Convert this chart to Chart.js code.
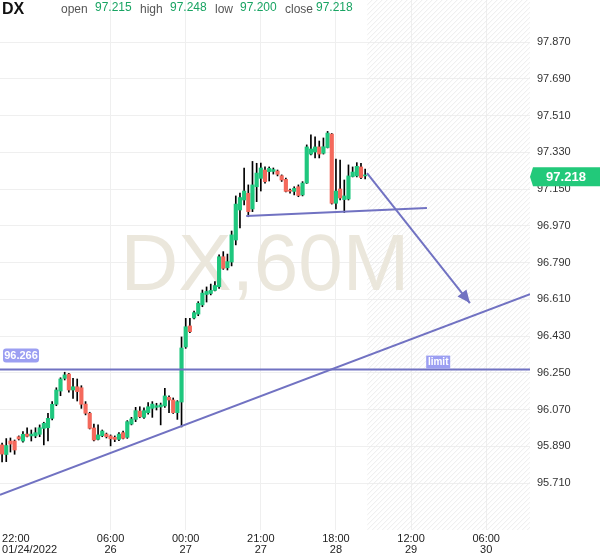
<!DOCTYPE html>
<html>
<head>
<meta charset="utf-8">
<script src="https://cdn.jsdelivr.net/npm/chart.js@4.4.0/dist/chart.umd.min.js"></script>
<style>
    html, body { margin: 0; padding: 0; background: #fff; }
    #wrap { position: relative; width: 600px; height: 558px; }
</style>
</head>
<body>
<div id="wrap"><canvas id="dxChart"></canvas></div>
<script>
// DX 60 minute candles
const opens = [95.897, 95.850, 95.916, 95.916, 95.937, 95.916, 95.950, 95.941, 95.941, 95.949,
    95.978, 95.981, 96.027, 96.096, 96.161, 96.223, 96.244, 96.166, 96.182, 96.177,
    96.097, 96.052, 95.980, 95.924, 95.942, 95.950, 95.941, 95.934, 95.924, 95.957,
    95.934, 95.999, 96.022, 96.063, 96.032, 96.055, 96.076, 96.081, 96.083, 96.088,
    96.130, 96.117, 96.055, 96.107, 96.377, 96.480, 96.519, 96.538, 96.583, 96.634,
    96.639, 96.654, 96.672, 96.819, 96.765, 96.793, 96.901, 97.048, 97.097, 97.130,
    97.053, 97.162, 97.203, 97.244, 97.236, 97.237, 97.239, 97.216, 97.198, 97.143,
    97.139, 97.162, 97.122, 97.180, 97.322, 97.332, 97.357, 97.326, 97.354, 97.420,
    97.081, 97.151, 97.099, 97.102, 97.212, 97.215, 97.259, 97.215];
const highs = [95.906, 95.928, 95.931, 95.921, 95.941, 95.962, 95.981, 95.970, 95.981, 95.995,
    96.008, 96.052, 96.109, 96.177, 96.226, 96.253, 96.248, 96.223, 96.220, 96.187,
    96.109, 96.057, 95.999, 95.995, 95.970, 95.955, 95.946, 95.941, 95.957, 95.965,
    96.016, 96.032, 96.081, 96.084, 96.079, 96.104, 96.109, 96.101, 96.102, 96.174,
    96.137, 96.127, 96.114, 96.426, 96.517, 96.517, 96.553, 96.599, 96.656, 96.671,
    96.685, 96.697, 96.828, 96.844, 96.832, 96.945, 97.117, 97.131, 97.254, 97.171,
    97.286, 97.277, 97.278, 97.259, 97.259, 97.254, 97.244, 97.220, 97.205, 97.151,
    97.162, 97.171, 97.187, 97.367, 97.416, 97.406, 97.386, 97.401, 97.433, 97.423,
    97.298, 97.293, 97.195, 97.269, 97.259, 97.280, 97.277, 97.248];
const lows = [95.813, 95.815, 95.862, 95.851, 95.921, 95.910, 95.936, 95.916, 95.932, 95.937,
    95.897, 95.916, 96.019, 96.089, 96.138, 96.215, 96.155, 96.125, 96.112, 96.076,
    96.044, 95.975, 95.916, 95.921, 95.937, 95.931, 95.892, 95.913, 95.918, 95.926,
    95.929, 95.995, 96.011, 96.030, 96.027, 96.048, 96.032, 96.068, 95.995, 96.081,
    96.055, 96.051, 96.022, 95.985, 96.370, 96.447, 96.514, 96.530, 96.574, 96.597,
    96.632, 96.651, 96.664, 96.757, 96.754, 96.774, 96.877, 96.960, 97.073, 97.015,
    97.040, 97.089, 97.141, 97.179, 97.190, 97.224, 97.215, 97.188, 97.136, 97.131,
    97.122, 97.113, 97.117, 97.178, 97.318, 97.303, 97.303, 97.322, 97.352, 97.077,
    97.053, 97.097, 97.036, 97.097, 97.210, 97.210, 97.202, 97.200];
const closes = [95.852, 95.894, 95.901, 95.872, 95.926, 95.949, 95.939, 95.950, 95.957, 95.981,
    96.003, 96.027, 96.096, 96.166, 96.220, 96.240, 96.166, 96.182, 96.158, 96.096,
    96.052, 95.978, 95.921, 95.946, 95.965, 95.937, 95.927, 95.924, 95.950, 95.929,
    96.011, 96.024, 96.065, 96.035, 96.065, 96.084, 96.097, 96.089, 96.093, 96.137,
    96.117, 96.055, 96.109, 96.372, 96.476, 96.452, 96.545, 96.591, 96.641, 96.649,
    96.654, 96.678, 96.819, 96.762, 96.795, 96.926, 97.077, 97.109, 97.141, 97.040,
    97.171, 97.229, 97.254, 97.187, 97.252, 97.246, 97.223, 97.195, 97.139, 97.140,
    97.154, 97.119, 97.180, 97.357, 97.347, 97.357, 97.322, 97.358, 97.425, 97.081,
    97.141, 97.107, 97.117, 97.215, 97.234, 97.262, 97.207, 97.218];

// empty future slots on the right (hatched area)
const futureSlots = 39;

// time axis ticks (slot index -> label)
const tickIndex = [0, 26, 44, 62, 80, 98, 116];
const tickLabels = [['22:00', '01/24/2022'], ['06:00', '26'], ['00:00', '27'], ['21:00', '27'],
    ['18:00', '28'], ['12:00', '29'], ['06:00', '30']];

// price axis
const yTicks = [95.71, 95.89, 96.07, 96.25, 96.43, 96.61, 96.79, 96.97, 97.15, 97.33, 97.51, 97.69, 97.87];
const yMin = 95.48;
const yMax = 98.077;

// drawings: [slot, price] pairs
const trendLine = [[-0.5, 95.652], [126.5, 96.636]];
const supportLine = [[58.5, 97.019], [101.8, 97.058]];
const arrowLine = [[87.45, 97.229], [112.1, 96.592]];
const limitPrice = 96.266;
const limitLabelSlot = 104.5;

const upColor = '#1fc77e';
const downColor = '#f4695c';
const toolColor = '#7172c2';
const fontFamily = 'Arial, "Liberation Sans", sans-serif';

Chart.defaults.font.family = fontFamily;

const slotCount = opens.length + futureSlots;
const labels = [];
for (let i = 0; i < slotCount; i++) labels.push('');
tickIndex.forEach((idx, k) => { labels[idx] = tickLabels[k]; });
const gridSlots = new Set(tickIndex.slice(1));

const bodies = opens.map((o, i) => [o, closes[i]]);
const wicks = lows.map((l, i) => [l, highs[i]]);
const bodyColors = opens.map((o, i) => closes[i] >= o ? upColor : downColor);

function pt(chart, p) {
    return [chart.scales.x.getPixelForValue(p[0]), chart.scales.y.getPixelForValue(p[1])];
}

function roundRect(ctx, x, y, w, h, r) {
    ctx.beginPath();
    ctx.moveTo(x + r, y);
    ctx.arcTo(x + w, y, x + w, y + h, r);
    ctx.arcTo(x + w, y + h, x, y + h, r);
    ctx.arcTo(x, y + h, x, y, r);
    ctx.arcTo(x, y, x + w, y, r);
    ctx.closePath();
}

const overlay = {
    id: 'overlay',
    beforeDatasetsDraw(chart) {
        const ctx = chart.ctx;
        const area = chart.chartArea;
        const x = chart.scales.x;

        // hatched future area
        const hx = x.getPixelForValue(opens.length - 0.5);
        ctx.save();
        ctx.beginPath();
        ctx.rect(hx, area.top, area.right - hx, area.bottom - area.top);
        ctx.clip();
        ctx.strokeStyle = '#ececec';
        ctx.lineWidth = 1;
        const h = area.bottom - area.top;
        for (let sx = hx - h; sx < area.right; sx += 5) {
            ctx.beginPath();
            ctx.moveTo(sx, area.bottom);
            ctx.lineTo(sx + h, area.top);
            ctx.stroke();
        }
        ctx.restore();

        // watermark
        ctx.save();
        ctx.font = '80px ' + fontFamily;
        ctx.fillStyle = '#ebe7dc';
        ctx.textAlign = 'center';
        ctx.textBaseline = 'alphabetic';
        ctx.fillText('DX,60M', (area.left + area.right) / 2, 290);
        ctx.restore();
    },
    afterDatasetsDraw(chart) {
        const ctx = chart.ctx;
        const area = chart.chartArea;
        ctx.save();
        ctx.beginPath();
        ctx.rect(area.left, area.top, area.right - area.left, area.bottom - area.top);
        ctx.clip();
        ctx.strokeStyle = toolColor;
        ctx.fillStyle = toolColor;
        ctx.lineWidth = 2;

        [trendLine, supportLine, arrowLine].forEach(line => {
            const a = pt(chart, line[0]);
            const b = pt(chart, line[1]);
            ctx.beginPath();
            ctx.moveTo(a[0], a[1]);
            ctx.lineTo(b[0], b[1]);
            ctx.stroke();
        });

        // arrow head
        const a = pt(chart, arrowLine[0]);
        const b = pt(chart, arrowLine[1]);
        const ang = Math.atan2(b[1] - a[1], b[0] - a[0]);
        const len = 14;
        ctx.beginPath();
        ctx.moveTo(b[0], b[1]);
        ctx.lineTo(b[0] - len * Math.cos(ang - 0.42), b[1] - len * Math.sin(ang - 0.42));
        ctx.lineTo(b[0] - len * Math.cos(ang + 0.42), b[1] - len * Math.sin(ang + 0.42));
        ctx.closePath();
        ctx.fill();

        // horizontal limit line
        const ly = chart.scales.y.getPixelForValue(limitPrice);
        ctx.beginPath();
        ctx.moveTo(area.left, ly);
        ctx.lineTo(area.right, ly);
        ctx.stroke();
        ctx.restore();

        // labels on the limit line
        ctx.save();
        ctx.fillStyle = '#9c9ff2';
        roundRect(ctx, 3, ly - 21, 36, 14, 3);
        ctx.fill();
        const lx = chart.scales.x.getPixelForValue(limitLabelSlot);
        ctx.fillRect(lx - 12, ly - 14, 24, 13);
        ctx.fillStyle = '#fff';
        ctx.textAlign = 'center';
        ctx.textBaseline = 'middle';
        ctx.font = 'bold 11px ' + fontFamily;
        ctx.fillText(limitPrice.toFixed(3), 21, ly - 13.5);
        ctx.font = 'bold 10px ' + fontFamily;
        ctx.fillText('limit', lx, ly - 7.5);
        ctx.restore();
    },
    afterDraw(chart) {
        const ctx = chart.ctx;
        const area = chart.chartArea;
        const last = opens.length - 1;

        // last price tag
        const py = chart.scales.y.getPixelForValue(closes[last]) + 1.5;
        ctx.save();
        ctx.fillStyle = '#22c97a';
        ctx.beginPath();
        ctx.moveTo(area.right, py);
        ctx.lineTo(area.right + 3, py - 9.5);
        ctx.lineTo(chart.width, py - 9.5);
        ctx.lineTo(chart.width, py + 9.5);
        ctx.lineTo(area.right + 3, py + 9.5);
        ctx.closePath();
        ctx.fill();
        ctx.fillStyle = '#fff';
        ctx.font = 'bold 13px ' + fontFamily;
        ctx.textAlign = 'center';
        ctx.textBaseline = 'middle';
        ctx.fillText(closes[last].toFixed(3), 566, py + 0.5);
        ctx.restore();

        // header: symbol + OHLC of last bar
        ctx.save();
        ctx.textBaseline = 'alphabetic';
        ctx.textAlign = 'left';
        ctx.fillStyle = '#111';
        ctx.font = 'bold 16px ' + fontFamily;
        ctx.fillText('DX', 2, 13.5);
        const items = [
            ['open', opens[last], 61, 95],
            ['high', highs[last], 140, 170],
            ['low', lows[last], 215, 240],
            ['close', closes[last], 285, 316]
        ];
        items.forEach(it => {
            ctx.font = '12px ' + fontFamily;
            ctx.fillStyle = '#555';
            ctx.fillText(it[0], it[2], 13);
            ctx.fillStyle = '#19a463';
            ctx.fillText(it[1].toFixed(3), it[3], 10.5);
        });
        ctx.restore();
    }
};

const chart = new Chart(document.getElementById('dxChart'), {
    type: 'bar',
    data: {
        labels: labels,
        datasets: [
            {
                label: 'body',
                data: bodies,
                backgroundColor: bodyColors,
                barThickness: 3.5,
                minBarLength: 1,
                grouped: false,
                order: 1
            },
            {
                label: 'wick',
                data: wicks,
                backgroundColor: '#000',
                barThickness: 1,
                grouped: false,
                order: 2
            }
        ]
    },
    options: {
        responsive: true,
        maintainAspectRatio: false,
        animation: false,
        layout: { padding: 0 },
        plugins: {
            legend: { display: false },
            tooltip: { enabled: false }
        },
        scales: {
            x: {
                type: 'category',
                offset: true,
                grid: {
                    offset: false,
                    drawTicks: false,
                    color: (c) => gridSlots.has(c.index) ? '#efefef' : 'rgba(0,0,0,0)'
                },
                border: { display: false },
                ticks: {
                    autoSkip: false,
                    maxRotation: 0,
                    minRotation: 0,
                    align: 'inner',
                    color: '#222',
                    padding: 4,
                    font: { size: 11, lineHeight: 0.95 }
                },
                afterFit: (s) => {
                    s.height = 28;
                    s.paddingLeft = 0;
                    s.paddingRight = 0;
                }
            },
            y: {
                position: 'right',
                min: yMin,
                max: yMax,
                afterBuildTicks: (s) => {
                    s.ticks = yTicks.map(v => ({ value: v }));
                },
                grid: { color: '#efefef', drawTicks: false },
                border: { display: false },
                ticks: {
                    color: '#333',
                    padding: 7,
                    font: { size: 11 },
                    callback: (v) => Number(v).toFixed(3)
                },
                afterFit: (s) => {
                    s.width = 70;
                    s.paddingTop = 0;
                    s.paddingBottom = 0;
                }
            }
        }
    },
    plugins: [overlay]
});
</script>
</body>
</html>
